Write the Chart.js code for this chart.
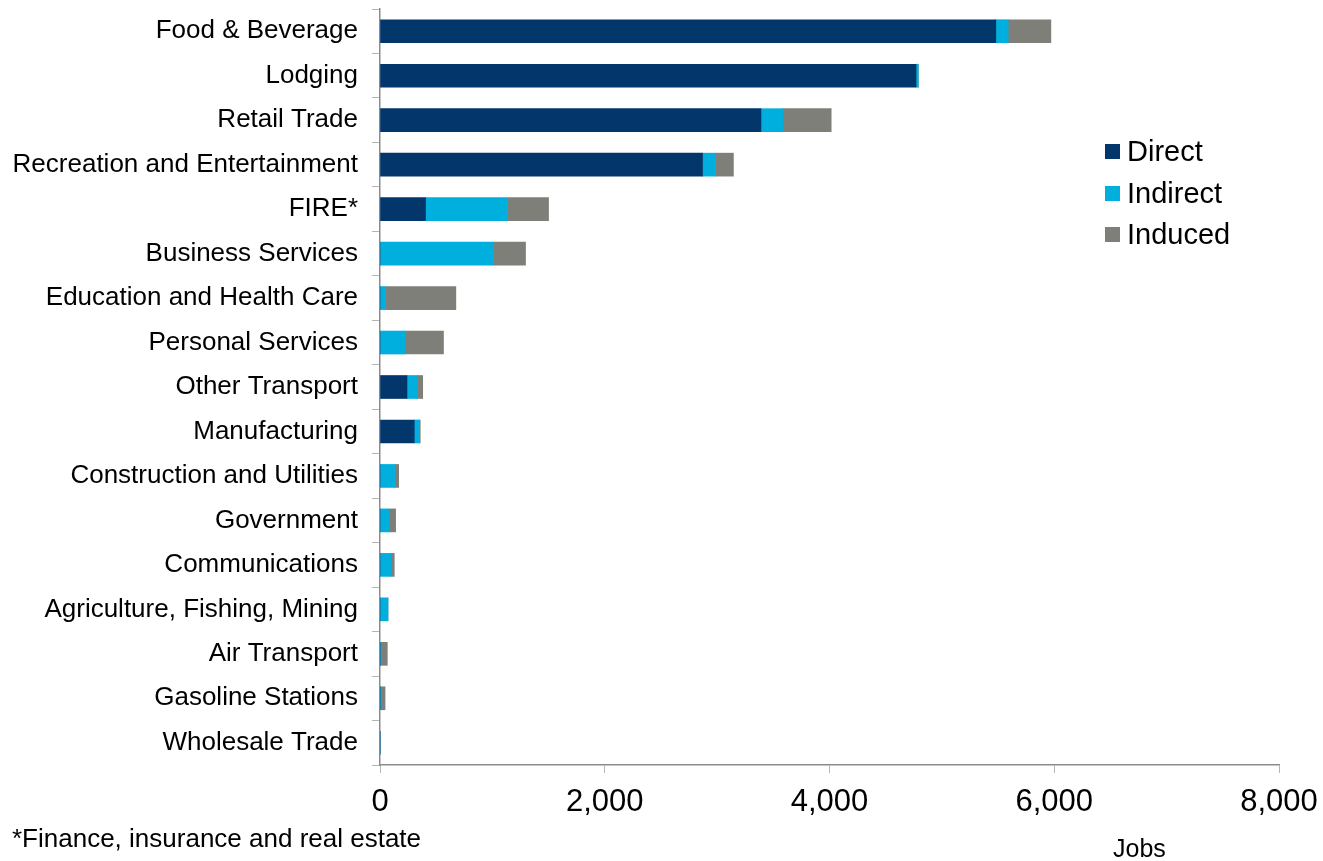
<!DOCTYPE html>
<html>
<head>
<meta charset="utf-8">
<script src="https://cdn.jsdelivr.net/npm/chart.js@4"></script>
<style>
  html, body { margin: 0; padding: 0; background: #fff; }
  #wrap { position: relative; width: 1323px; height: 861px; font-family: "Liberation Sans", Arial, sans-serif; }
  #legend { position: absolute; left: 1105px; top: 131px; }
  .item { display: flex; align-items: center; height: 41.5px; font-size: 29px; color: #000; }
  .swatch { width: 15px; height: 15px; margin-right: 7px; }
  #note { position: absolute; left: 12px; top: 823px; font-size: 26px; line-height: 30px; }
  #jobs { position: absolute; left: 1113px; top: 834px; font-size: 25px; line-height: 29px; }
</style>
</head>
<body>
<div id="wrap">
  <canvas id="jobs-chart" width="1323" height="861"></canvas>
  <div id="legend"></div>
  <div id="note">*Finance, insurance and real estate</div>
  <div id="jobs">Jobs</div>
</div>
<script>
// industries, top to bottom
const industries = [
  'Food & Beverage', 'Lodging', 'Retail Trade', 'Recreation and Entertainment',
  'FIRE*', 'Business Services', 'Education and Health Care', 'Personal Services',
  'Other Transport', 'Manufacturing', 'Construction and Utilities', 'Government',
  'Communications', 'Agriculture, Fishing, Mining', 'Air Transport',
  'Gasoline Stations', 'Wholesale Trade'
];
// jobs by effect type
const directJobs   = [5480, 4770, 3390, 2870, 405, 0, 0, 0, 240, 305, 0, 0, 0, 0, 0, 0, 0];
const indirectJobs = [110, 20, 195, 115, 730, 1010, 50, 220, 95, 48, 130, 77, 95, 71, 5, 5, 0];
const inducedJobs  = [380, 0, 430, 160, 365, 285, 625, 345, 45, 5, 36, 62, 32, 0, 60, 40, 0];
const xTicks = [0, 2000, 4000, 6000, 8000];

const seriesNames = ['Direct', 'Indirect', 'Induced'];
const seriesColors = ['#03366b', '#00afdd', '#7f7f7a'];

const legendBox = document.getElementById('legend');
seriesNames.forEach((name, i) => {
  const row = document.createElement('div');
  row.className = 'item';
  row.innerHTML = '<span class="swatch" style="background:' + seriesColors[i] + '"></span>' + name;
  legendBox.appendChild(row);
});

const ctx = document.getElementById('jobs-chart').getContext('2d');
new Chart(ctx, {
  type: 'bar',
  data: {
    labels: industries,
    datasets: [
      { label: seriesNames[0], data: directJobs, backgroundColor: seriesColors[0] },
      { label: seriesNames[1], data: indirectJobs, backgroundColor: seriesColors[1] },
      { label: seriesNames[2], data: inducedJobs, backgroundColor: seriesColors[2] }
    ]
  },
  options: {
    indexAxis: 'y',
    responsive: false,
    animation: false,
    barThickness: 23,
    layout: { padding: { top: 9, right: 44, bottom: 36, left: 0 } },
    plugins: { legend: { display: false }, tooltip: { enabled: false } },
    scales: {
      x: {
        stacked: true,
        min: 0,
        max: 8000,
        afterBuildTicks: (s) => { s.ticks = xTicks.map(v => ({ value: v })); },
        afterFit: (s) => { s.height = 60; s.paddingLeft = 0; s.paddingRight = 0; },
        border: { color: '#8c8c8c', width: 1.5 },
        grid: { drawOnChartArea: false, tickLength: 8, color: '#b5b5b5' },
        ticks: { color: '#000', padding: 11, font: { family: 'Liberation Sans', size: 31 } }
      },
      y: {
        stacked: true,
        afterFit: (s) => { s.width = 380; s.paddingTop = 0; s.paddingBottom = 0; },
        border: { color: '#8c8c8c', width: 1.5 },
        grid: { drawOnChartArea: false, tickLength: 8, color: '#b5b5b5', offset: true },
        ticks: { color: '#000', padding: 14, autoSkip: false, font: { family: 'Liberation Sans', size: 26 } }
      }
    }
  }
});
</script>
</body>
</html>
